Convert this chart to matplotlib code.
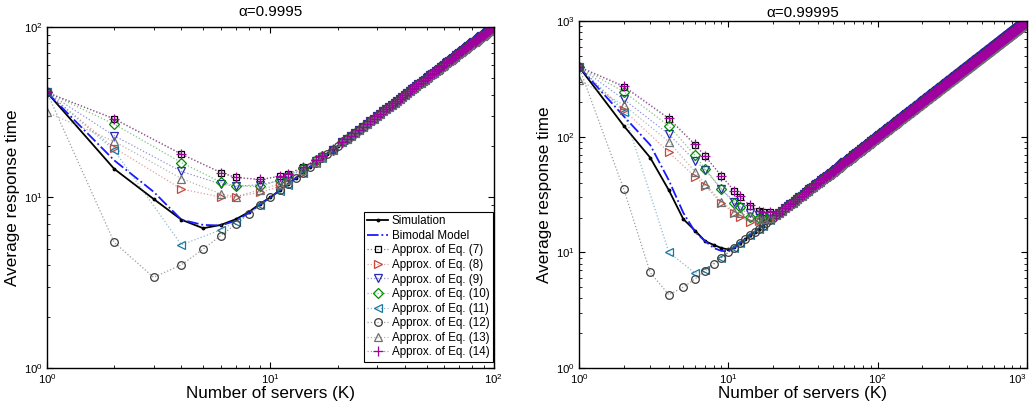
import matplotlib
matplotlib.use("Agg")
import matplotlib.pyplot as plt
from matplotlib.colors import to_rgba

plt.rcParams['font.family'] = ['Liberation Sans', 'DejaVu Sans']

# ---- data ----
# K values where the simulation / bimodal model are drawn one by one
sim_k = list(range(1, 21))
# K values where the approximations (except Eq. 12) have points before the curves merge
approx_k = [1, 2, 4, 6, 7, 9, 11, 12, 14, 16, 17, 19]

# alpha = 0.9995 (left panel)
sim_left = [41.3, 14.7, 9.8, 7.4, 6.6, 6.9, 7.45, 8.2, 9.2, 10.0,
            11, 12, 13, 14, 15, 16, 17, 18, 19, 20]
bim_left = [41.3, 16.5, 10.8, 7.4, 6.9, 6.85, 7.3, 8.1, 9.1, 10.0,
            11, 12, 13, 14, 15, 16, 17, 18, 19, 20]
eq7_left = [41.3, 28.8, 17.9, 14.0, 13.1, 12.7, 13.3, 13.7, 15.0, 16.6, 17.6, 19.2]
eq8_left = [41.3, 19.5, 11.2, 10.05, 10.1, 10.7, 11.6, 12.3, 14.0, 16.0, 17.0, 19.0]
eq9_left = [41.3, 23.0, 14.2, 12.0, 11.6, 11.9, 12.5, 13.2, 14.6, 16.3, 17.3, 19.0]
eq10_left = [41.3, 26.9, 16.0, 12.3, 11.7, 11.6, 12.7, 13.4, 14.8, 16.5, 17.5, 19.1]
eq11_left = [41.3, 18.9, 5.27, 6.46, 7.2, 9.05, 10.9, 11.9, 13.9, 16.0, 17.0, 19.0]
eq12_left = [41.3, 5.45, 3.4, 4.03, 4.98, 5.98, 6.97, 7.98, 8.97, 10.0,
             11, 12, 13, 14, 15, 16, 17, 18, 19, 20]
eq13_left = [31.6, 21.3, 12.9, 10.5, 10.1, 11.1, 12.0, 12.7, 14.4, 16.2, 17.2, 19.0]
eq14_left = [41.3, 29.0, 18.0, 14.0, 13.1, 12.8, 13.3, 13.8, 15.0, 16.6, 17.6, 19.2]

# alpha = 0.99995 (right panel)
sim_right = [403, 124, 66, 34.5, 19.4, 15.4, 12.5, 11.6, 10.9, 10.6,
             11.1, 12, 13, 14, 15, 16, 17, 18, 19, 20]
bim_right = [403, 150, 85, 42, 22, 15, 12.5, 10.9, 10.3, 10.2,
             11, 12, 13, 14, 15, 16, 17, 18, 19, 20]
eq7_right = [403, 270, 143, 85, 68, 45.7, 33.9, 30.3, 25.3, 22.7, 22.4, 22.5]
eq8_right = [403, 170, 73.6, 45, 37.7, 26.6, 21.7, 20.3, 18.4, 18.5, 19.0, 19.5]
eq9_right = [403, 210, 105, 62, 52, 35, 27.5, 24.5, 22.0, 21.0, 20.8, 21.0]
eq10_right = [403, 245, 124, 69, 53, 35.3, 26.5, 24.8, 20.4, 20.0, 20.5, 21.0]
eq11_right = [403, 164, 10.0, 6.6, 7.1, 9.0, 11, 12, 14, 16, 17, 19]
eq12_right = [403, 35, 6.7, 4.3, 5.0, 5.9, 6.9, 7.9, 9.0, 10.0,
              11, 12, 13, 14, 15, 16, 17, 18, 19, 20]
eq13_right = [309, 188, 90.6, 49.8, 39, 27.5, 22.4, 21.8, 20.5, 19.5, 19.5, 20.0]
eq14_right = [403, 275, 145, 86, 68, 46, 34, 30.5, 25.5, 23.0, 22.5, 22.5]

# past K ~ 20 every curve sits on the line "response time = K"
tail_k_left = list(range(21, 101))
tail_t_left = [float(k) for k in tail_k_left]
tail_k_right = list(range(21, 1001))
tail_t_right = [float(k) for k in tail_k_right]

labels = ['Approx. of Eq. (7)', 'Approx. of Eq. (8)', 'Approx. of Eq. (9)',
          'Approx. of Eq. (10)', 'Approx. of Eq. (11)', 'Approx. of Eq. (12)',
          'Approx. of Eq. (13)', 'Approx. of Eq. (14)']
markers = ['s', '>', 'v', 'D', '<', 'o', '^', '+']
colors = ['#000000', '#c8463c', '#2828b4', '#008c00', '#1a78a0',
          '#3c3c3c', '#707070', '#a000a0']
msizes = [5, 6, 6, 5, 6, 5.5, 6, 6.5]


def decade_labels(top):
    return [r'$\mathdefault{10^{%d}}$' % p for p in range(top + 1)]


def draw_panel(ax, sim, bim, approx, eq12, tail_k, tail_t, title, top, pad):
    ax.plot(sim_k + tail_k, sim + tail_t, '-', color='k', lw=1.3,
            marker='.', ms=3.5, label='Simulation')
    ax.plot(sim_k + tail_k, bim + tail_t, '-.', color='#1a1aff', lw=1.3,
            label='Bimodal Model')
    for i, lab in enumerate(labels):
        if i == 5:
            k = sim_k + tail_k
            t = eq12 + tail_t
        else:
            k = approx_k + tail_k
            t = approx[i if i < 5 else i - 1] + tail_t
        ax.plot(k, t, ':', color=to_rgba(colors[i], 0.5), lw=0.9,
                marker=markers[i], ms=msizes[i], mfc='none',
                mec=colors[i], mew=0.9, label=lab)
    ax.set_xscale('log')
    ax.set_yscale('log')
    ax.set_xlim(1, 10 ** top)
    ax.set_ylim(1, 10 ** top)
    decades = [10 ** p for p in range(top + 1)]
    ax.set_xticks(decades, labels=decade_labels(top))
    ax.set_yticks(decades, labels=decade_labels(top))
    ax.set_xlabel('Number of servers (K)', fontsize=12.3, labelpad=0)
    ax.set_ylabel('Average response time', fontsize=12.3, labelpad=3)
    ax.set_title(title, fontsize=11, pad=pad)
    ax.tick_params(which='both', direction='in', top=True, right=True,
                   labelsize=8.2, pad=3)
    ax.tick_params(which='major', length=4, width=0.8)
    ax.tick_params(which='minor', length=2.5, width=0.6)
    for s in ax.spines.values():
        s.set_linewidth(1.0)


fig = plt.figure(figsize=(10.32, 4.11), dpi=100)
ax1 = fig.add_axes([0.0455, 0.1046, 0.433, 0.830])
ax2 = fig.add_axes([0.561, 0.1046, 0.434, 0.844])

draw_panel(ax1, sim_left, bim_left,
           [eq7_left, eq8_left, eq9_left, eq10_left, eq11_left, eq13_left, eq14_left],
           eq12_left, tail_k_left, tail_t_left, 'α=0.9995', 2, 8)
draw_panel(ax2, sim_right, bim_right,
           [eq7_right, eq8_right, eq9_right, eq10_right, eq11_right, eq13_right, eq14_right],
           eq12_right, tail_k_right, tail_t_right, 'α=0.99995', 3, 3)

# keep the last x tick label of the right panel inside the figure
ax2.get_xticklabels()[-1].set_horizontalalignment('right')

leg = ax1.legend(loc='lower right', bbox_to_anchor=(0.998, 0.018), borderaxespad=0,
                 fontsize=8.4, fancybox=False, framealpha=1, edgecolor='k',
                 handlelength=1.8, handletextpad=0.3, labelspacing=0.22,
                 borderpad=0.3)
leg.get_frame().set_linewidth(0.8)

fig.savefig('out.png', dpi=100)
